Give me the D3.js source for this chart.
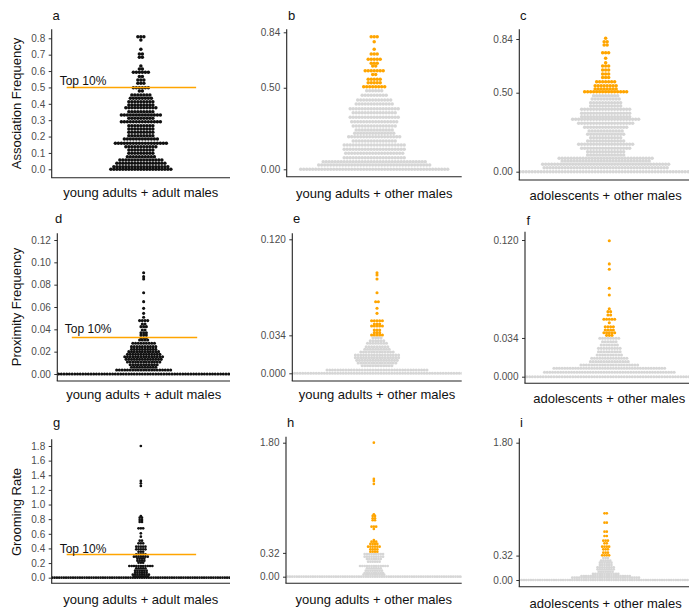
<!DOCTYPE html>
<html><head><meta charset="utf-8">
<script src="https://cdn.jsdelivr.net/npm/d3@7"></script>
<style>body{margin:0;background:#fff}text{font-family:"Liberation Sans",Arial,sans-serif}</style>
</head><body>
<svg id="chart" width="689" height="612"></svg>
<script>
// ---------- data: dot rows (value of row, number of dots in row) ----------
const aValues = [0.000,0.016,0.037,0.057,0.077,0.098,0.118,0.138,0.159,0.185,0.205,0.226,0.246,0.266,0.291,0.311,0.332,0.352,0.376,0.393,0.413,0.434,0.454,0.478,0.498,0.525,0.545,0.566,0.592,0.612,0.631,0.684,0.704,0.733,0.790,0.810];
const aCounts = [21,19,17,15,10,9,9,11,18,12,9,9,9,9,14,9,14,9,11,9,9,8,7,2,6,3,3,2,6,2,1,2,2,1,1,3];

const bValues = [0.000,0.026,0.047,0.071,0.098,0.123,0.149,0.174,0.200,0.221,0.241,0.265,0.292,0.319,0.347,0.372,0.400,0.425,0.454,0.482,0.506,0.531,0.552,0.582,0.605,0.633,0.650,0.674,0.707,0.736,0.782,0.813];
const bCounts = [50,38,35,21,20,21,21,15,18,14,13,15,16,17,15,17,13,12,9,6,8,5,5,2,7,2,3,5,3,1,1,3];

const cValues = [0.000,0.025,0.047,0.068,0.085,0.106,0.127,0.148,0.173,0.194,0.215,0.237,0.258,0.281,0.306,0.332,0.348,0.370,0.395,0.416,0.437,0.460,0.481,0.506,0.523,0.544,0.570,0.597,0.618,0.644,0.669,0.690,0.718,0.753,0.802,0.823,0.844];
const cCounts = [70,42,43,30,32,13,13,17,19,13,11,13,12,15,19,23,17,17,17,11,11,10,9,15,8,8,7,3,3,3,3,1,1,3,2,2,1];

const dValues = [0,0.0036,0.0060,0.0083,0.0107,0.0131,0.0155,0.0176,0.0200,0.0221,0.0245,0.0275,0.0304,0.0325,0.0349,0.0370,0.0394,0.0424,0.0448,0.0478,0.0508,0.0543,0.0588,0.0648,0.0728,0.0851,0.0872,0.0907];
const dCounts = [90,21,10,11,13,14,15,13,12,10,10,9,4,3,3,3,2,3,2,4,1,1,1,1,1,1,1,1];

const eValues = [0,0.0030,0.0068,0.0092,0.0116,0.0140,0.0164,0.0191,0.0215,0.0238,0.0269,0.0292,0.0319,0.0343,0.0364,0.0388,0.0424,0.0441,0.0471,0.0537,0.0582,0.0641,0.0722,0.0845,0.0880,0.0901];
const eCounts = [90,38,12,15,16,17,17,13,10,9,8,6,4,5,3,3,5,3,5,1,1,2,1,1,1,1];

const fValues = [0,0.0039,0.0074,0.0103,0.0132,0.0162,0.0190,0.0219,0.0249,0.0278,0.0307,0.0337,0.0363,0.0386,0.0410,0.0439,0.0474,0.0504,0.0542,0.0571,0.0597,0.0717,0.0776,0.0943,0.0990,0.1194];
const fCounts = [90,49,42,22,15,14,10,9,9,7,6,8,3,5,4,4,1,5,2,2,1,1,1,1,1,1];

const gValues = [0,0.014,0.041,0.068,0.096,0.128,0.160,0.205,0.232,0.260,0.287,0.320,0.355,0.388,0.424,0.470,0.506,0.561,0.607,0.675,0.761,0.789,0.820,0.843,1.254,1.290,1.322,1.800];
const gCounts = [120,7,8,6,6,5,11,3,4,4,7,5,3,5,5,3,2,1,1,3,2,2,2,1,1,1,1,1];

const hValues = [0,0.027,0.050,0.081,0.113,0.144,0.202,0.238,0.269,0.305,0.336,0.368,0.403,0.440,0.470,0.493,0.641,0.672,0.758,0.785,0.816,0.838,1.246,1.286,1.313,1.800];
const hCounts = [120,10,9,8,7,13,6,7,9,9,4,4,6,4,3,1,1,3,2,2,2,1,1,1,1,1];

const iValues = [0,0.030,0.052,0.079,0.109,0.140,0.166,0.197,0.227,0.253,0.288,0.323,0.358,0.402,0.437,0.481,0.515,0.577,0.633,0.751,0.874];
const iCounts = [120,30,22,12,7,8,8,6,6,5,3,4,3,3,4,2,3,2,2,2,2];

// tick labels
const assocTicksA = [0,0.1,0.2,0.3,0.4,0.5,0.6,0.7,0.8];
const assocTicksBC = [0,0.5,0.84];
const proxTicksD = [0,0.02,0.04,0.06,0.08,0.10,0.12];
const proxTicksEF = [0,0.034,0.12];
const groomTicksG = [0,0.2,0.4,0.6,0.8,1.0,1.2,1.4,1.6,1.8];
const groomTicksHI = [0,0.32,1.8];

// thresholds (top 10%)
const thrAssoc = 0.50, thrProx = 0.034, thrGroom = 0.32;

const xLabYA = "young adults + adult males";
const xLabYO = "young adults + other males";
const xLabAO = "adolescents + other males";
const yTitles = ["Association Frequency","Proximity Frequency","Grooming Rate"];

// ---------- layout ----------
const panels = [
 {id:'a',vals:aValues,counts:aCounts,thr:null,ticks:assocTicksA,fmt:'.1f',vRef:0.8,left:51.7,right:230,top:29.3,bottom:177.7,y0:169.3,y1:38.3,r:1.75,sp:3.0,labY:20,labX:52.5,xlY:196.7,xlab:xLabYA,top10:thrAssoc,tOff:2.7},
 {id:'b',vals:bValues,counts:bCounts,thr:thrAssoc,ticks:assocTicksBC,fmt:'.2f',vRef:0.84,left:286.7,right:461.7,top:29.3,bottom:176.7,y0:169.3,y1:32.3,r:1.75,sp:3.0,labY:20,labX:288,xlY:197.7,xlab:xLabYO},
 {id:'c',vals:cValues,counts:cCounts,thr:thrAssoc,ticks:assocTicksBC,fmt:'.2f',vRef:0.84,left:519.3,right:692,top:29.3,bottom:180,y0:171.7,y1:39,r:1.75,sp:3.0,labY:20,labX:520,xlY:200,xlab:xLabAO},
 {id:'d',vals:dValues,counts:dCounts,thr:null,ticks:proxTicksD,fmt:'.2f',vRef:0.12,left:57.3,right:230,top:233.3,bottom:381,y0:374,y1:240,r:1.55,sp:2.7,labY:223.3,labX:55,xlY:399.3,xlab:xLabYA,top10:0.0334,tOff:3.4},
 {id:'e',vals:eValues,counts:eCounts,thr:thrProx,ticks:proxTicksEF,fmt:'.3f',vRef:0.12,left:292.3,right:461.7,top:233.3,bottom:381,y0:373.3,y1:239.3,r:1.55,sp:2.7,labY:223.3,labX:293,xlY:399.3,xlab:xLabYO},
 {id:'f',vals:fValues,counts:fCounts,thr:thrProx,ticks:proxTicksEF,fmt:'.3f',vRef:0.12,left:525,right:693.6,top:231.7,bottom:383.3,y0:376.7,y1:240,r:1.55,sp:2.7,labY:225,labX:526.5,xlY:402.7,xlab:xLabAO},
 {id:'g',vals:gValues,counts:gCounts,thr:null,ticks:groomTicksG,fmt:'.1f',vRef:1.8,left:51.7,right:230,top:439.3,bottom:583.3,y0:577.7,y1:446,r:1.35,sp:2.3,labY:427,labX:53,xlY:604.3,xlab:xLabYA,top10:0.324,tOff:0.9},
 {id:'h',vals:hValues,counts:hCounts,thr:thrGroom,ticks:groomTicksHI,fmt:'.2f',vRef:1.8,left:286,right:461.7,top:436.7,bottom:583.3,y0:576.7,y1:442.7,r:1.35,sp:2.3,labY:427,labX:287,xlY:604.3,xlab:xLabYO},
 {id:'i',vals:iValues,counts:iCounts,thr:thrGroom,ticks:groomTicksHI,fmt:'.2f',vRef:1.8,left:519.3,right:692,top:438.3,bottom:586.7,y0:580,y1:442.7,r:1.35,sp:2.3,labY:426.7,labX:520,xlY:607.7,xlab:xLabAO}
];
const titlePos = [103.5, 307, 512];

const svg = d3.select('#chart');
const defs = svg.append('defs');

panels.forEach(p => {
  const y = d3.scaleLinear().domain([0, p.vRef]).range([p.y0, p.y1]);
  const cx = (p.left + p.right) / 2;
  const g = svg.append('g');
  defs.append('clipPath').attr('id', 'clip' + p.id).append('rect')
    .attr('x', p.left).attr('y', p.top).attr('width', p.right - p.left).attr('height', p.bottom - p.top);

  const dots = [];
  p.vals.forEach((v, i) => {
    const n = p.counts[i];
    for (let k = 0; k < n; k++) dots.push({v, off: k - (n - 1) / 2});
  });
  g.append('g').attr('clip-path', `url(#clip${p.id})`)
    .selectAll('circle').data(dots).join('circle')
    .attr('cx', d => cx + d.off * p.sp)
    .attr('cy', d => y(d.v))
    .attr('r', p.r)
    .attr('fill', d => p.thr == null ? '#111' : (d.v >= p.thr ? '#FFA500' : '#D6D6D6'));

  // top 10% line
  if (p.top10 != null) {
    const w = p.right - p.left;
    const x1 = p.left + 0.084 * w, x2 = p.left + 0.81 * w;
    const ly = Math.round(y(p.top10)) + 0.5;
    g.append('line').attr('x1', x1).attr('x2', x2)
      .attr('y1', ly).attr('y2', ly)
      .attr('stroke', '#FFA500').attr('stroke-width', 1.3);
    g.append('text').attr('x', x1 - 7).attr('y', y(p.top10) - p.tOff)
      .attr('font-size', 12).attr('fill', '#111').text('Top 10%');
  }

  // axes
  const axis = d3.axisLeft(y).tickValues(p.ticks).tickFormat(d3.format(p.fmt))
    .tickSize(3).tickPadding(3.5);
  const ag = g.append('g').attr('transform', `translate(${p.left},0)`).call(axis);
  ag.select('.domain').remove();
  ag.selectAll('.tick line').attr('stroke', '#333').attr('stroke-width', 1);
  ag.selectAll('.tick text').attr('font-size', 10).attr('fill', '#4D4D4D')
    .style('font-family', '"Liberation Sans",Arial,sans-serif');

  g.append('line').attr('x1', p.left).attr('x2', p.left).attr('y1', p.top).attr('y2', p.bottom)
    .attr('stroke', '#222').attr('stroke-width', 1.1);
  g.append('line').attr('x1', p.left - 0.55).attr('x2', p.right).attr('y1', p.bottom).attr('y2', p.bottom)
    .attr('stroke', '#222').attr('stroke-width', 1.1);

  // panel letter
  g.append('text').attr('x', p.labX).attr('y', p.labY).attr('font-size', 13).attr('fill', '#111').text(p.id);
  // x label
  g.append('text').attr('x', cx).attr('y', p.xlY).attr('text-anchor', 'middle')
    .attr('font-size', 13).attr('fill', '#111').text(p.xlab);
});

yTitles.forEach((t, i) => {
  svg.append('text').attr('transform', `translate(16.7,${titlePos[i]}) rotate(-90)`)
    .attr('text-anchor', 'middle').attr('dy', '0.35em')
    .attr('font-size', 13).attr('fill', '#111').text(t);
});
</script>
</body></html>
